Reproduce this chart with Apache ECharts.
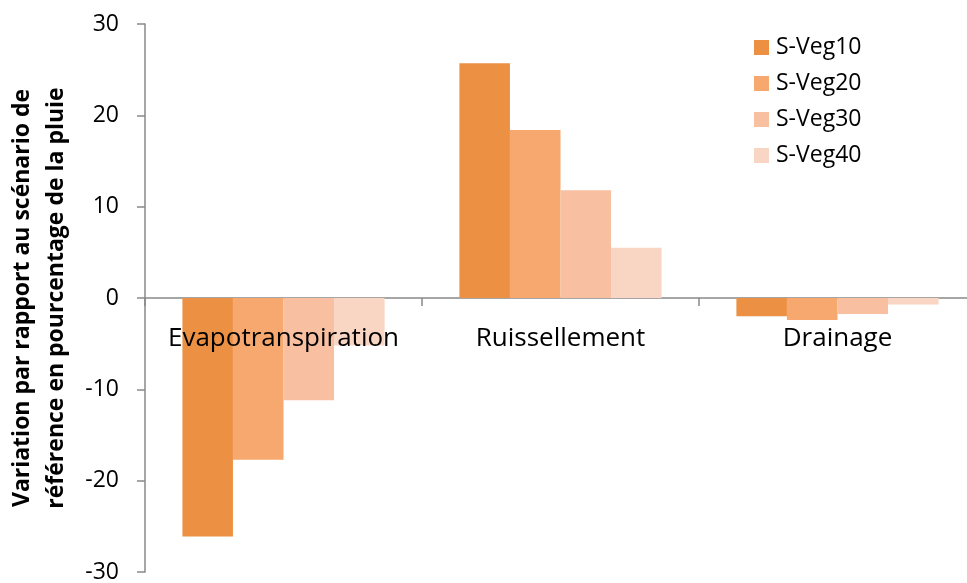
<!DOCTYPE html>
<html><head><meta charset="utf-8">
<script src="https://cdn.jsdelivr.net/npm/echarts@6/dist/echarts.min.js"></script>
<style>html,body{margin:0;padding:0;background:#fff}#c{width:967px;height:583px}</style>
</head><body><div id="c"></div>
<script>
var categories = ['Evapotranspiration', 'Ruissellement', 'Drainage'];
var seriesNames = ['S-Veg10', 'S-Veg20', 'S-Veg30', 'S-Veg40'];
var sVeg10 = [-26.1, 25.7, -2.0];
var sVeg20 = [-17.7, 18.4, -2.4];
var sVeg30 = [-11.2, 11.8, -1.75];
var sVeg40 = [-5.2, 5.5, -0.7];
var yTicks = [-30, -20, -10, 0, 10, 20, 30];
var colors = ['#EC9143', '#F6A86E', '#F8BFA0', '#F9D5C4'];
var FONT = 'Open Sans';
var data = [sVeg10, sVeg20, sVeg30, sVeg40];
var chart = echarts.init(document.getElementById('c'));
var axisCol = '#898989';
chart.setOption({
  animation: false,
  textStyle: {fontFamily: FONT},
  grid: {left: 145, right: -9, top: 24, bottom: 11, containLabel: false, outerBoundsMode: 'none'},
  legend: {
    orient: 'vertical', left: 749, top: 31, itemWidth: 15, itemHeight: 15, itemGap: 13,
    icon: 'rect',
    textStyle: {fontFamily: FONT, fontSize: 23, color: '#000', padding: [0,0,0,2]},
    data: seriesNames
  },
  xAxis: [{
    type: 'category', data: categories,
    axisLine: {onZero: true, lineStyle: {color: axisCol, width: 1.5}},
    axisTick: {show: true, length: 8, lineStyle: {color: axisCol, width: 1.5}},
    axisLabel: {show: false},
    splitLine: {show: false}
  }, {
    type: 'category', data: categories, position: 'bottom', offset: -246, z: 10,
    axisLine: {show: false}, axisTick: {show: false}, splitLine: {show: false},
    axisLabel: {fontFamily: FONT, fontSize: 26, color: '#000', margin: 0, interval: 0}
  }],
  yAxis: {
    type: 'value', min: yTicks[0], max: yTicks[yTicks.length-1], interval: 10,
    name: 'Variation par rapport au scénario de\nréférence en pourcentage de la pluie',
    nameLocation: 'middle', nameGap: 72, nameRotate: 90,
    nameTextStyle: {fontFamily: FONT, fontSize: 23, fontWeight: 'bold', color: '#000', lineHeight: 34},
    axisLine: {show: true, lineStyle: {color: axisCol, width: 1.5}},
    axisTick: {show: true, length: 8, lineStyle: {color: axisCol, width: 1.5}},
    axisLabel: {fontFamily: FONT, fontSize: 23, color: '#000', margin: 26},
    splitLine: {show: false}
  },
  series: seriesNames.map(function (n, i) {
    return {
      name: n, type: 'bar', data: data[i], barGap: '0%', barCategoryGap: '27%',
      itemStyle: {color: colors[i]}, z: 1
    };
  })
});
</script></body></html>
